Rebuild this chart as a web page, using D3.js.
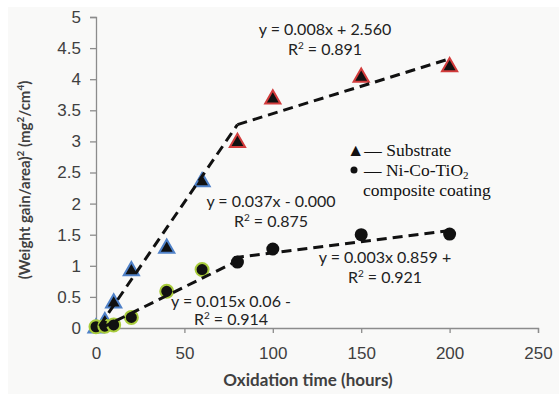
<!DOCTYPE html>
<html>
<head>
<meta charset="utf-8">
<script src="https://cdn.jsdelivr.net/npm/d3@7"></script>
<style>
  body { margin: 0; background: #fff; }
  svg { display: block; }
</style>
</head>
<body>
<div id="chart"></div>
<script>
// oxidation time (hours)
const hours = [0, 5, 10, 20, 40, 60, 80, 100, 150, 200]
// (weight gain/area)^2
const substrate = [0, 0.1, 0.4, 0.92, 1.28, 2.35, 2.98, 3.68, 4.03, 4.2]
const coating = [0.02, 0.03, 0.05, 0.17, 0.59, 0.94, 1.06, 1.27, 1.5, 1.51]

// piecewise linear fits as drawn (start / end points in data units)
const subFit1 = [[2, 0.03], [80, 3.27]]
const subFit2 = [[80, 3.27], [198, 4.31]]
const coatFit1 = [[3, 0.0], [80, 1.08]]
const coatFit2 = [[78, 1.13], [198, 1.56]]

const xTicks = [0, 50, 100, 150, 200, 250]
const yTicks = [0, 0.5, 1, 1.5, 2, 2.5, 3, 3.5, 4, 4.5, 5]

const width = 559
const height = 394
const margin = { top: 17, right: 21, bottom: 66, left: 96 }

const calibri = "Lato, 'Open Sans', sans-serif"

let svg = d3.select("#chart").append("svg")
    .attr("width", width)
    .attr("height", height)

// chart area background
svg.append("rect")
    .attr("x", 8).attr("y", 7)
    .attr("width", width - 8).attr("height", height - 7)
    .style("fill", "#f9f9f8")

let x = d3.scaleLinear().domain([0, 250]).range([margin.left, width - margin.right])
let y = d3.scaleLinear().domain([0, 5]).range([height - margin.bottom, margin.top])

// axes
let xAxis = svg.append("g")
    .attr("transform", "translate(0," + y(0) + ")")
    .call(d3.axisBottom(x).tickValues(xTicks).tickSize(5).tickPadding(14).tickFormat(d3.format("d")))
let yAxis = svg.append("g")
    .attr("transform", "translate(" + x(0) + ",0)")
    .call(d3.axisLeft(y).tickValues(yTicks).tickSize(6).tickPadding(9).tickFormat(d => d))

svg.selectAll(".domain").style("stroke", "#8c8c8c").style("stroke-width", "1.3px")
svg.selectAll(".tick line").style("stroke", "#8c8c8c").style("stroke-width", "1.3px")
svg.selectAll(".tick text")
    .style("font-family", "'Liberation Sans', Arial, sans-serif")
    .style("font-size", "17px")
    .style("fill", "#404040")

// axis titles
svg.append("text")
    .attr("x", 308).attr("y", 386)
    .attr("text-anchor", "middle")
    .style("font-family", calibri)
    .style("font-weight", "bold")
    .style("font-size", "17px")
    .style("fill", "#404040")
    .text("Oxidation time (hours)")

let yTitle = svg.append("text")
    .attr("transform", "translate(30," + 180 + ") rotate(-90)")
    .attr("text-anchor", "middle")
    .style("font-family", calibri)
    .style("font-weight", "bold")
    .style("font-size", "15px")
    .style("fill", "#404040")
yTitle.append("tspan").text("(Weight gain/area)")
yTitle.append("tspan").attr("dy", -6).style("font-size", "10px").text("2")
yTitle.append("tspan").attr("dy", 6).text(" (mg")
yTitle.append("tspan").attr("dy", -6).style("font-size", "10px").text("2")
yTitle.append("tspan").attr("dy", 6).text("/cm")
yTitle.append("tspan").attr("dy", -6).style("font-size", "10px").text("4")
yTitle.append("tspan").attr("dy", 6).text(")")

// markers
let subData = hours.map((h, i) => ({ h: h, v: substrate[i] }))
let coatData = hours.map((h, i) => ({ h: h, v: coating[i] }))

let tri = d3.symbol().type(d3.symbolTriangle).size(100)
svg.append("g").selectAll("path")
    .data(subData)
    .enter()
    .append("path")
    .attr("d", tri)
    .attr("transform", d => "translate(" + x(d.h) + "," + y(d.v) + ")")
    .style("fill", "#111")
    .style("stroke", d => d.h < 80 ? "#4f81c8" : "#d23c3c")
    .style("stroke-width", "2px")

svg.append("g").selectAll("circle")
    .data(coatData)
    .enter()
    .append("circle")
    .attr("cx", d => x(d.h))
    .attr("cy", d => y(d.v))
    .attr("r", 6.5)
    .style("fill", "#111")
    .style("stroke", d => d.h < 80 ? "#a9cc3c" : "none")
    .style("stroke-width", "2px")

// trend lines
let line = d3.line().x(d => x(d[0])).y(d => y(d[1]))
svg.append("g").selectAll("path")
    .data([subFit1, subFit2, coatFit1, coatFit2])
    .enter()
    .append("path")
    .attr("d", line)
    .style("fill", "none")
    .style("stroke", "#111")
    .style("stroke-width", "3px")
    .style("stroke-dasharray", "10,6")

// equations
const eqs = [
    { a: "y = 0.008x + 2.560", b: "0.891", cx: 325, ya: 35, yb: 55 },
    { a: "y = 0.037x - 0.000", b: "0.875", cx: 271, ya: 207, yb: 227 },
    { a: "y = 0.015x 0.06 -", b: "0.914", cx: 231, ya: 307, yb: 325 },
    { a: "y = 0.003x 0.859 +", b: "0.921", cx: 385, ya: 263, yb: 283 }
]
eqs.forEach(function (e) {
    svg.append("text")
        .attr("x", e.cx).attr("y", e.ya)
        .attr("text-anchor", "middle")
        .style("font-family", calibri)
        .style("font-size", "16px")
        .style("fill", "#222")
        .text(e.a)
    let r = svg.append("text")
        .attr("x", e.cx).attr("y", e.yb)
        .attr("text-anchor", "middle")
        .style("font-family", calibri)
        .style("font-size", "16px")
        .style("fill", "#222")
    r.append("tspan").text("R")
    r.append("tspan").attr("dy", -6).style("font-size", "10px").text("2")
    r.append("tspan").attr("dy", 6).text(" = " + e.b)
})

// legend
let serif = "'Liberation Serif', 'Times New Roman', serif"
let lg = svg.append("g").style("font-family", serif).style("font-size", "17.5px").style("fill", "#111")
lg.append("text").attr("x", 347).attr("y", 156).text("\u25B2\u2014 Substrate")
lg.append("circle").attr("cx", 354).attr("cy", 170).attr("r", 3.5).style("fill", "#111")
let l2 = lg.append("text").attr("x", 364).attr("y", 176)
l2.append("tspan").text("\u2014 Ni-Co-TiO")
l2.append("tspan").attr("dy", 3).style("font-size", "11px").text("2")
lg.append("text").attr("x", 363).attr("y", 196).text("composite coating")
</script>
</body>
</html>
